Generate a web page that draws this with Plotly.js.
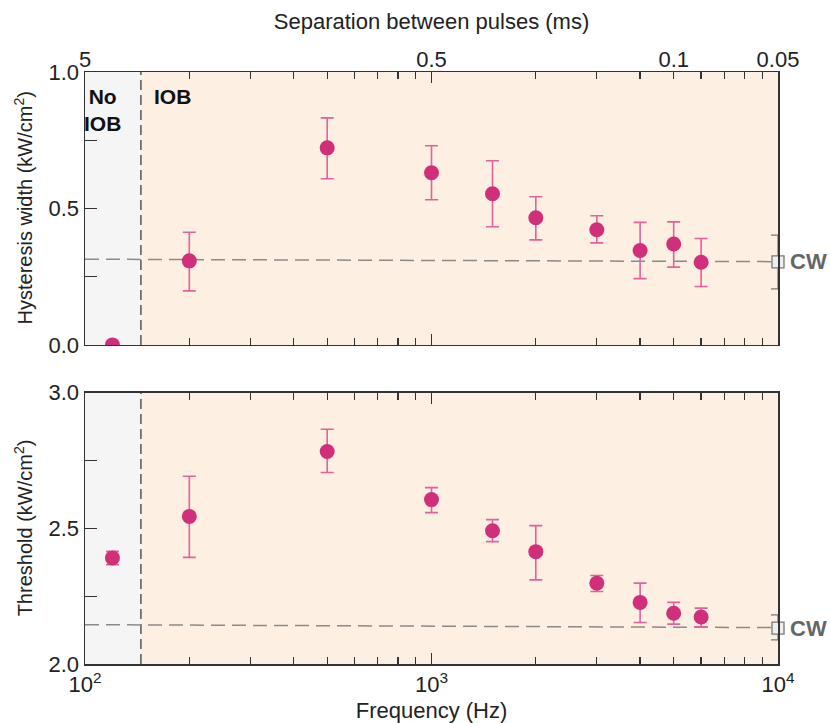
<!DOCTYPE html>
<html>
<head>
<meta charset="utf-8">
<script src="https://cdn.plot.ly/plotly-3.0.1.min.js"></script>
<style>body{margin:0;background:#fff}#plot{width:830px;height:723px}</style>
</head>
<body>
<div id="plot"></div>
<script>
// Data
const freq = [120, 200, 500, 1000, 1500, 2000, 3000, 4000, 5000, 6000];
const hyst = [0, 0.308, 0.722, 0.631, 0.554, 0.466, 0.422, 0.346, 0.370, 0.303];
const hystUp = [0, 0.105, 0.110, 0.099, 0.121, 0.077, 0.051, 0.103, 0.081, 0.087];
const hystDn = [0, 0.110, 0.113, 0.099, 0.121, 0.081, 0.048, 0.103, 0.085, 0.089];
const thr = [2.391, 2.544, 2.783, 2.606, 2.491, 2.414, 2.298, 2.227, 2.187, 2.173];
const thrUp = [0.024, 0.148, 0.082, 0.044, 0.041, 0.096, 0.028, 0.071, 0.040, 0.033];
const thrDn = [0.025, 0.151, 0.077, 0.048, 0.040, 0.104, 0.031, 0.074, 0.040, 0.036];
const cwFreq = [10000];
const cwHyst = [0.304], cwHystUp = [0.098], cwHystDn = [0.099];
const cwThr = [2.132], cwThrUp = [0.049], cwThrDn = [0.043];
const refX = [100, 10000];
const hystRef = [0.314, 0.305];
const thrRef = [2.145, 2.134];
const iobBoundary = 145;
const xTickVals = [100, 1000, 10000];
const xTickText = ['10<sup>2</sup>', '10<sup>3</sup>', '10<sup>4</sup>'];
const xMinorVals = [200, 300, 400, 500, 600, 700, 800, 900, 2000, 3000, 4000, 5000, 6000, 7000, 8000, 9000];
const sepVals = [100, 1000, 5000, 10000];
const sepText = ['5', '0.5', '0.1', '0.05'];

const pink = '#d0307a', pinkErr = '#e2629c';
const axisCol = '#333';
const font = {family: 'Liberation Sans, Arial, sans-serif', size: 20, color: '#222'};

function dataTrace(y, up, dn, xa, ya) {
  return {x: freq, y: y, xaxis: xa, yaxis: ya, type: 'scatter', mode: 'markers',
    marker: {color: pink, size: 15},
    error_y: {type: 'data', symmetric: false, array: up, arrayminus: dn, color: pinkErr, thickness: 1.6, width: 6.5},
    cliponaxis: true, showlegend: false, hoverinfo: 'skip'};
}
function refTrace(y, xa, ya) {
  return {x: refX, y: y, xaxis: xa, yaxis: ya, type: 'scatter', mode: 'lines',
    line: {color: '#8a8a8a', width: 1.5, dash: '14px,7px'}, showlegend: false, hoverinfo: 'skip'};
}
function cwTrace(y, up, dn, xa, ya) {
  return {x: cwFreq, y: y, xaxis: xa, yaxis: ya, type: 'scatter', mode: 'markers',
    marker: {symbol: 'square', size: 12, color: '#eeeeee', line: {color: '#777', width: 1.3}},
    error_y: {type: 'data', symmetric: false, array: up, arrayminus: dn, color: '#777', thickness: 1.3, width: 7},
    cliponaxis: false, showlegend: false, hoverinfo: 'skip'};
}

const traces = [
  refTrace(hystRef, 'x2', 'y'),
  dataTrace(hyst, hystUp, hystDn, 'x2', 'y'),
  cwTrace(cwHyst, cwHystUp, cwHystDn, 'x2', 'y'),
  refTrace(thrRef, 'x', 'y2'),
  dataTrace(thr, thrUp, thrDn, 'x', 'y2'),
  cwTrace(cwThr, cwThrUp, cwThrDn, 'x', 'y2'),
  {x: sepVals, y: [null, null, null, null], xaxis: 'x3', yaxis: 'y', type: 'scatter', mode: 'markers', showlegend: false, hoverinfo: 'skip'}
];

const xCommon = {type: 'log', range: [2, 4], showline: true, linecolor: axisCol, linewidth: 1.5,
  ticks: 'inside', ticklen: 11, tickwidth: 1.3, tickcolor: axisCol, mirror: 'ticks',
  tickmode: 'array', tickvals: xTickVals, showgrid: false, zeroline: false,
  minor: {tickmode: 'array', tickvals: xMinorVals, ticks: 'inside', ticklen: 7, tickwidth: 1.3, tickcolor: axisCol, showgrid: false}};

function shapesFor(xref, yref) {
  return [
    {type: 'rect', xref: xref, yref: yref + ' domain', x0: 100, x1: iobBoundary, y0: 0, y1: 1, fillcolor: '#f5f5f5', line: {width: 0}, layer: 'below'},
    {type: 'rect', xref: xref, yref: yref + ' domain', x0: iobBoundary, x1: 10000, y0: 0, y1: 1, fillcolor: '#fdefe2', line: {width: 0}, layer: 'below'},
    {type: 'line', xref: xref, yref: yref + ' domain', x0: iobBoundary, x1: iobBoundary, y0: 0, y1: 1, line: {color: '#555', width: 1.5, dash: '10px,5px'}, layer: 'below'}
  ];
}

const layout = {
  width: 830, height: 723, margin: {l: 85, r: 52, t: 72, b: 59},
  paper_bgcolor: '#fff', plot_bgcolor: 'rgba(0,0,0,0)', font: font, showlegend: false,
  xaxis: Object.assign({}, xCommon, {anchor: 'y2', ticktext: xTickText, showticklabels: true,
    tickfont: {size: 22}, title: {text: 'Frequency (Hz)', font: {size: 22}, standoff: 6}}),
  xaxis2: Object.assign({}, xCommon, {anchor: 'y', matches: 'x', ticktext: xTickText, showticklabels: false}),
  xaxis3: {type: 'log', range: [2, 4], overlaying: 'x2', anchor: 'y', side: 'top', showline: false, ticks: '',
    tickmode: 'array', tickvals: sepVals, ticktext: sepText, showgrid: false, zeroline: false,
    tickfont: {size: 22}, title: {text: 'Separation between pulses (ms)', font: {size: 22}, standoff: 10}},
  yaxis: {domain: [0.539, 1], range: [0, 1], anchor: 'x2', showline: true, linecolor: axisCol, linewidth: 1.5, mirror: true,
    ticks: 'inside', ticklen: 12, tickwidth: 1.3, tickcolor: axisCol, tickmode: 'array',
    tickvals: [0, 0.25, 0.5, 0.75, 1], ticktext: ['0.0', '', '0.5', '', '1.0'], tickfont: {size: 22},
    showgrid: false, zeroline: false},
  yaxis2: {domain: [0, 0.4583], range: [2, 3], anchor: 'x', showline: true, linecolor: axisCol, linewidth: 1.5, mirror: true,
    ticks: 'inside', ticklen: 12, tickwidth: 1.3, tickcolor: axisCol, tickmode: 'array',
    tickvals: [2, 2.25, 2.5, 2.75, 3], ticktext: ['2.0', '', '2.5', '', '3.0'], tickfont: {size: 22},
    showgrid: false, zeroline: false},
  shapes: shapesFor('x2', 'y').concat(shapesFor('x', 'y2')),
  annotations: [
    {xref: 'paper', yref: 'y domain', x: 0, y: 0.5, xanchor: 'center', yanchor: 'middle', xshift: -62, textangle: -90, text: 'Hysteresis width (kW/cm<sup>2</sup>)', showarrow: false, font: {size: 20, color: '#222'}},
    {xref: 'paper', yref: 'y2 domain', x: 0, y: 0.5, xanchor: 'center', yanchor: 'middle', xshift: -62, textangle: -90, text: 'Threshold (kW/cm<sup>2</sup>)', showarrow: false, font: {size: 20, color: '#222'}},
    {xref: 'paper', yref: 'y', x: 1, y: cwHyst[0], text: '<b>CW</b>', showarrow: false, xanchor: 'left', xshift: 10, font: {size: 22, color: '#666'}},
    {xref: 'paper', yref: 'y2', x: 1, y: cwThr[0], text: '<b>CW</b>', showarrow: false, xanchor: 'left', xshift: 10, font: {size: 22, color: '#666'}},
    {xref: 'x2', yref: 'y domain', x: Math.log10(112), y: 0.96, text: '<b>No<br>IOB</b>', showarrow: false, font: {size: 21, color: '#111'}, yanchor: 'top'},
    {xref: 'x2', yref: 'y domain', x: Math.log10(156), y: 0.96, text: '<b>IOB</b>', showarrow: false, xanchor: 'left', font: {size: 21, color: '#111'}, yanchor: 'top'}
  ]
};

Plotly.newPlot('plot', traces, layout, {displayModeBar: false, staticPlot: true});
</script>
</body>
</html>
